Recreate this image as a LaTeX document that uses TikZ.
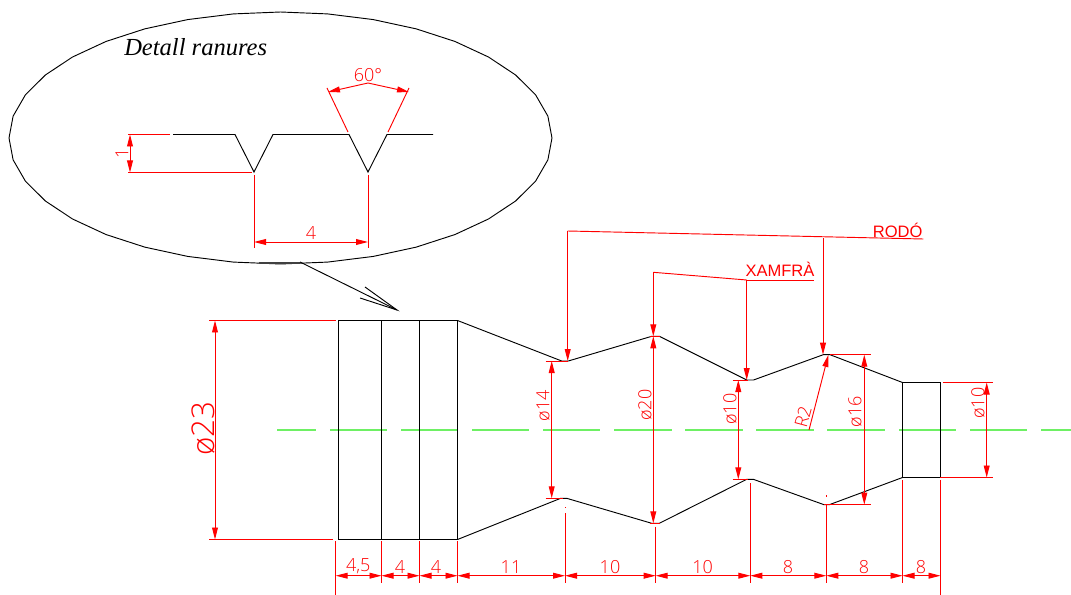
\documentclass[tikz,border=0pt]{standalone}
\usepackage{fontspec}
\setmainfont{Liberation Sans}
\newfontfamily\serifit{Liberation Serif}
\newfontfamily\dimf[UprightFont=* Light]{Open Sans}
\usetikzlibrary{arrows.meta}
\definecolor{cadred}{RGB}{255,0,0}
\definecolor{cadgreen}{RGB}{110,240,100}
\tikzset{
  part/.style={draw=black,line width=0.7pt,line join=miter},
  redline/.style={draw=cadred,line width=0.7pt},
  dimline/.style={redline,{Triangle[length=9pt,width=4.4pt]}-{Triangle[length=9pt,width=4.4pt]}},
  leaderline/.style={redline,-{Triangle[length=9pt,width=4.4pt]}},
  dimtext/.style={text=cadred,inner sep=0pt,font=\dimf\fontsize{13.5}{13.5}\selectfont},
  bigtext/.style={text=cadred,inner sep=0pt,font=\dimf\fontsize{23.5}{23.5}\selectfont},
  notetext/.style={text=cadred,inner sep=0pt,font=\fontsize{12.4}{12.4}\selectfont},
  axis/.style={draw=cadgreen,line width=1.1pt},
}
\begin{document}
\begin{tikzpicture}[x=0.75pt,y=-0.75pt]
\useasboundingbox (0,0) rectangle (1071,595);
% detail ellipse
\draw[part] plot[domain=0:360,samples=37] ({280.5+271.5*cos(\x)},{138+126*sin(\x)}) -- cycle;
\node[anchor=base west,inner sep=0pt,font=\serifit\itshape\fontsize{18.4}{18.4}\selectfont] (dettitle) at (124,55.5) {Detall ranures};
% groove profile
\draw[part] (173,134.5) -- (235,134.5) -- (254,172) -- (273,134.5) -- (349,134.5) -- (368,172) -- (387,134.5) -- (433,134.5);
% groove dimensions
\draw[redline] (128,134.5) -- (170,134.5);
\draw[redline] (128,172.5) -- (252,172.5);
\draw[dimline] (130,134.5) -- (130,172.5);
\node[dimtext,rotate=90] (gdepth) at (122,153) {1};
\draw[redline] (254,175) -- (254,248);
\draw[redline] (368,175) -- (368,248);
\draw[dimline] (254,242) -- (368,242);
\node[dimtext] (gpitch) at (311,233.5) {4};
\draw[redline] (348,132) -- (327,88);
\draw[redline] (388,132) -- (409,88);
\draw[dimline] (328,92) -- (368,83) -- (409,92);
\node[dimtext] (gangle) at (368,75) {60°};
% detail pointer
\draw[draw=black!75,line width=1.2pt] (259,263) -- (300,263);
\draw[part] (300,262) -- (397,310);
\draw[part] (365,287) -- (397,310) -- (360,298);
% centre line
\foreach \a/\b in {277/316,330/387,401/458,472/529,543/600,614/672,685/743,756/814,827/885,899/956,970/1027,1041/1071}
  \draw[axis] (\a,430) -- (\b,430);
% body
\draw[part] (338.5,320.5) rectangle (457.5,539.5);
\draw[part] (381.5,320.5) -- (381.5,539.5);
\draw[part] (419.5,320.5) -- (419.5,539.5);
\draw[part] (457.5,320.5) -- (561.7,361) -- (568.3,361) -- (651.7,336.3) -- (659.3,336.3) -- (746.7,380) -- (753.5,380) -- (823.3,354.7) -- (830,354.7) -- (902.5,382.5) -- (940.5,382.5) -- (940.5,477.5) -- (902.5,477.5) -- (829.3,504.7) -- (824,504.7) -- (753.3,479.3) -- (746.7,479.3) -- (659.3,523.3) -- (651.7,523.3) -- (566.7,498.3) -- (560.7,498.3) -- (457.5,539.5);
\draw[part] (902.5,382.5) -- (902.5,477.5);
% diameter 23
\draw[redline] (209,320.5) -- (336,320.5);
\draw[redline] (209,539.5) -- (333,539.5);
\draw[dimline] (215,320.5) -- (215,539.5);
\node[bigtext,rotate=90] (d23) at (203,428.5) {ø23};
% diameter 14
\draw[redline] (545.7,361) -- (568,361);
\draw[redline] (545.7,498.3) -- (563,498.3);
\draw[dimline] (551.7,361) -- (551.7,498.3);
\node[dimtext,rotate=90] (d14) at (543,405.7) {ø14};
% diameter 20
\draw[redline] (650,336.3) -- (660,336.3);
\draw[redline] (650,523.3) -- (660,523.3);
\draw[dimline] (653.3,336.3) -- (653.3,523.3);
\node[dimtext,rotate=90] (d20) at (645,405) {ø20};
% diameter 10 centre
\draw[redline] (732.7,380) -- (748,380);
\draw[redline] (732.7,479.3) -- (748,479.3);
\draw[dimline] (738.3,380) -- (738.3,479.3);
\node[dimtext,rotate=90] (d10a) at (730,409) {ø10};
% diameter 16
\draw[redline] (830,354.7) -- (870.7,354.7);
\draw[redline] (824,504.7) -- (870.7,504.7);
\draw[dimline] (864.3,354.7) -- (864.3,504.7);
\node[dimtext,rotate=90] (d16) at (855,411.7) {ø16};
% diameter 10 right
\draw[redline] (942.7,382.5) -- (993.3,382.5);
\draw[redline] (940,477.5) -- (993.3,477.5);
\draw[dimline] (986.7,382.5) -- (986.7,477.5);
\node[dimtext,rotate=90] (d10b) at (978,403) {ø10};
% radius
\draw[leaderline] (809,430) -- (828.3,355);
\node[dimtext,rotate=75] (r2) at (803,416.7) {R2};
% leaders
\draw[redline] (567.7,231) -- (923.3,239);
\draw[leaderline] (567.7,231) -- (567.7,361);
\draw[leaderline] (823,238) -- (823,354.7);
\node[notetext] (rodo) at (897.7,230) {RODÓ};
\draw[redline] (746.7,280) -- (653.3,272.3);
\draw[redline] (746.7,280) -- (814.3,280);
\draw[leaderline] (653.3,272.3) -- (653.3,336.3);
\draw[leaderline] (746.7,280) -- (746.7,380);
\node[notetext] (xamfra) at (780,269.3) {XAMFRÀ};
% length extension lines
\draw[redline] (335.7,541) -- (335.7,595);
\draw[redline] (381.5,541) -- (381.5,582.5);
\draw[redline] (419.5,541) -- (419.5,582.5);
\draw[redline] (457.5,541) -- (457.5,582.5);
\draw[redline] (565,507) -- (565,508) (565,513) -- (565,582.5);
\draw[redline] (655.7,526.7) -- (655.7,582.5);
\draw[redline] (750.3,483) -- (750.3,582.5);
\draw[redline] (826.3,495) -- (826.3,497) (826.3,505) -- (826.3,582.5);
\draw[redline] (902.5,480) -- (902.5,582.5);
\draw[redline] (940.5,480) -- (940.5,595);
% length dimensions
\foreach \a/\b in {335.7/381.5,381.5/419.5,419.5/457.5,457.5/565,565/655.7,655.7/750.3,750.3/826.3,826.3/902.5,902.5/940.5}
  \draw[dimline] (\a,575.7) -- (\b,575.7);
\node[dimtext] (l1) at (358.3,566) {4,5};
\node[dimtext] (l2) at (400,567) {4};
\node[dimtext] (l3) at (436,567) {4};
\node[dimtext] (l4) at (511,567) {11};
\node[dimtext] (l5) at (610,567) {10};
\node[dimtext] (l6) at (702.7,567) {10};
\node[dimtext] (l7) at (788,567) {8};
\node[dimtext] (l8) at (864,567) {8};
\node[dimtext] (l9) at (921,567) {8};
\end{tikzpicture}
\end{document}
